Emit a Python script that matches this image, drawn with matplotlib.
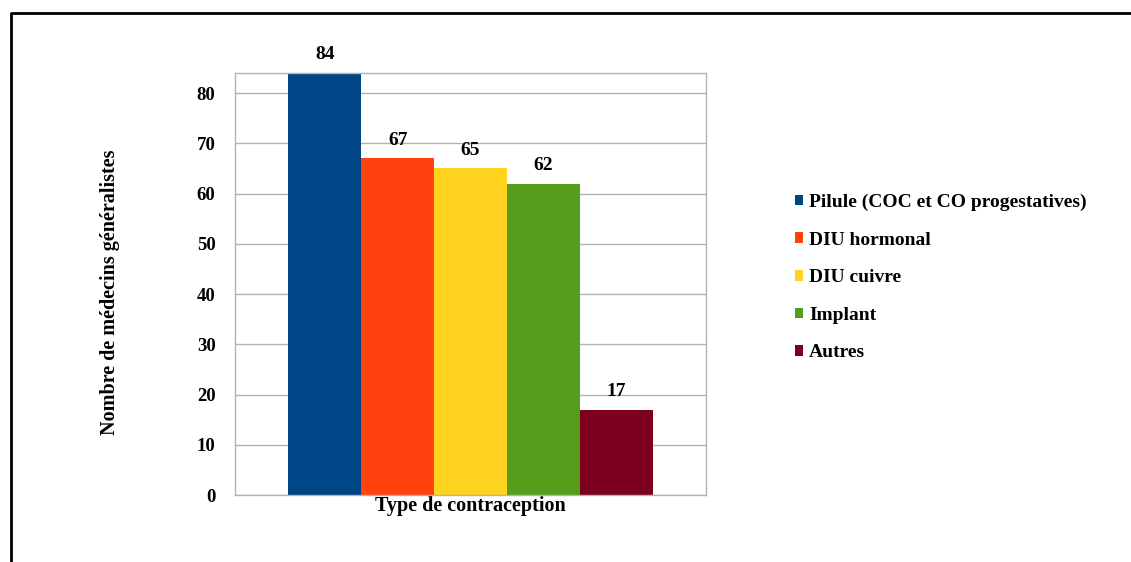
import matplotlib
matplotlib.use("Agg")
import matplotlib.pyplot as plt
from matplotlib.lines import Line2D
from matplotlib.patches import Patch

categories = ["Pilule (COC et CO progestatives)", "DIU hormonal", "DIU cuivre", "Implant", "Autres"]
values = [84, 67, 65, 62, 17]
colors = ["#004586", "#ff420e", "#ffd320", "#579d1c", "#7e0021"]
yticks = [0, 10, 20, 30, 40, 50, 60, 70, 80]

plt.rcParams["font.family"] = ["Liberation Serif", "DejaVu Serif"]
plt.rcParams["font.weight"] = "bold"

W, H = 1131, 562
fig = plt.figure(figsize=(W / 100, H / 100), dpi=100)
ax = fig.add_axes([235 / W, 1 - 495 / H, (706 - 235) / W, (495 - 73) / H])

n = len(values)
bw = 0.773 / n
for i, (cat, v, c) in enumerate(zip(categories, values, colors)):
    x = (i - (n - 1) / 2) * bw
    ax.bar(x, v, width=bw, color=c, label=cat, zorder=2)
    ax.annotate(str(v), (x, v), xytext=(0, 7), textcoords="offset points",
                ha="center", va="bottom", fontsize=14, fontweight="bold")

ax.set_xlim(-0.5, 0.5)
ax.set_ylim(0, 84)
ax.set_yticks(yticks)
ax.set_xticks([])
ax.tick_params(axis="y", length=0, pad=14, labelsize=13.5)
for lab in ax.get_yticklabels():
    lab.set_fontweight("bold")
ax.grid(axis="y", color="#b3b3b3", linewidth=1, zorder=0)
for s in ax.spines.values():
    s.set_color("#b3b3b3")
    s.set_linewidth(1)

ax.set_xlabel("Type de contraception", fontsize=14.5, fontweight="bold", labelpad=1)
fig.text(110 / W, 1 - 292 / H, "Nombre de médecins généralistes", rotation=90,
         ha="center", va="center", fontsize=14.5, fontweight="bold")

handles = [Patch(facecolor=c, edgecolor="none") for c in colors]
leg = fig.legend(handles, categories, loc="upper left",
                 bbox_to_anchor=(785 / W, 1 - 184 / H), frameon=False,
                 fontsize=14, handlelength=0.45, handleheight=0.45,
                 handletextpad=0.3, labelspacing=1.06, borderpad=0)
for t in leg.get_texts():
    t.set_fontweight("bold")

# outer frame (left and top edges)
fig.add_artist(Line2D([11 / W, 11 / W, 1.0], [0.0, 1 - 13 / H, 1 - 13 / H],
                      transform=fig.transFigure, color="black", linewidth=2))

fig.savefig("out.png", dpi=100, facecolor="white")
